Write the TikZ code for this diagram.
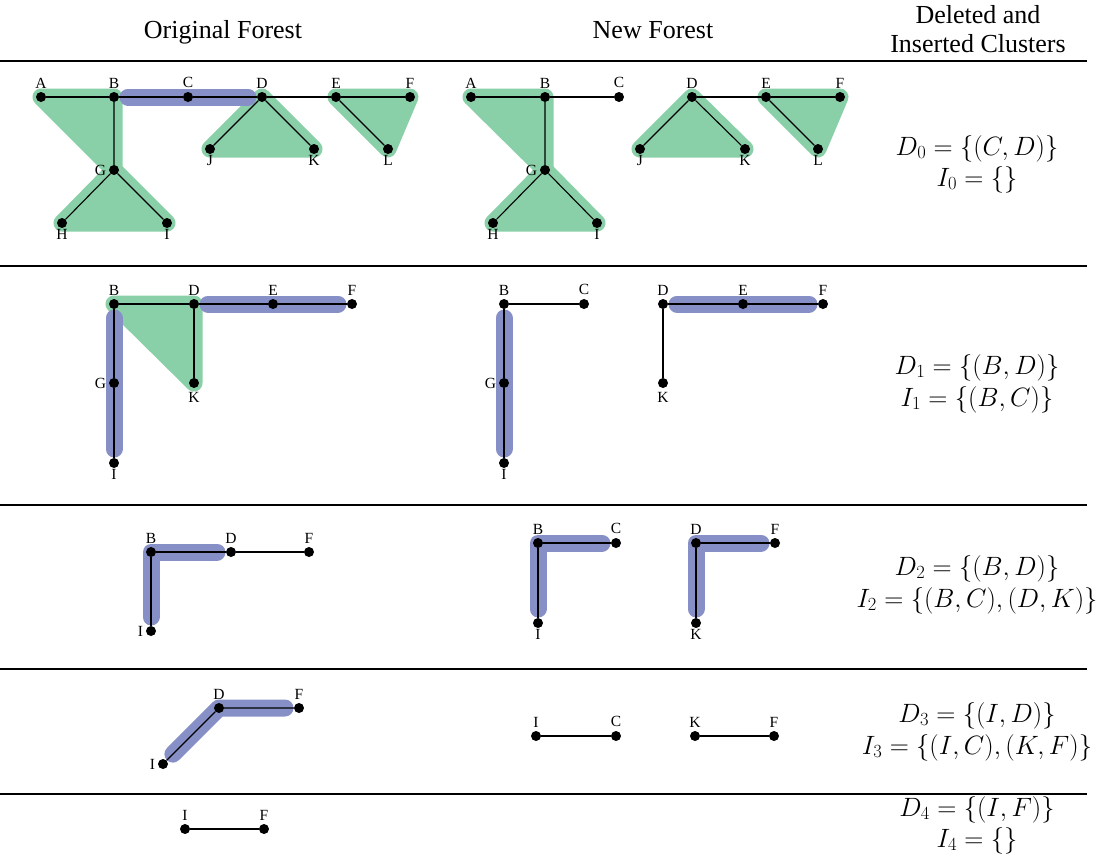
\RequirePackage{fix-cm}
\documentclass[tikz,border=0pt]{standalone}
\usepackage[no-math]{fontspec}
\setmainfont{Liberation Serif}

\definecolor{clgreen}{RGB}{137,207,168}
\definecolor{clblue}{RGB}{134,144,199}

\pgfdeclarelayer{bg}
\pgfsetlayers{bg,main}

\tikzset{
  vtx/.style={circle, fill=black, inner sep=0pt, minimum size=10pt},
  every label/.style={font=\fontsize{15.5}{18}\selectfont, inner sep=0pt},
  up/.style={label={[label distance=3.5pt]above:#1}},
  dn/.style={label={[label distance=1pt]below:#1}},
  lf/.style={label={[label distance=2.5pt]left:#1}},
  edge/.style={line width=1.1pt},
  gclus/.style={fill=clgreen, draw=clgreen, line width=17pt, line join=round},
  bclus/.style={draw=clblue, line width=17pt, line cap=round, line join=round,
                shorten <=14pt, shorten >=14pt},
  rule/.style={line width=1.3pt},
  head/.style={font=\fontsize{26}{29.6}\selectfont, inner sep=0pt},
  sets/.style={font=\fontsize{26.5}{31}\selectfont, inner sep=0pt, anchor=base}
}

\begin{document}
\begin{tikzpicture}[x=1pt, y=-1pt]
  \useasboundingbox (0,0) rectangle (1107,855);

  % column heads and rules
  \node[head, anchor=base] (hdorig) at (223,38) {Original Forest};
  \node[head, anchor=base] (hdnew) at (653,38) {New Forest};
  \node[head, anchor=north, align=center] (hddel) at (978,5) {Deleted and\\Inserted Clusters};
  \draw[rule] (0,61) -- (1087,61);
  \draw[rule] (0,266) -- (1087,266);
  \draw[rule] (0,505) -- (1087,505);
  \draw[rule] (0,669) -- (1087,669);
  \draw[rule] (0,794) -- (1087,794);

  % step 0
  \node[vtx, up=A] (o1A) at (41,97) {};   \node[vtx, up=B] (o1B) at (114,97) {};
  \node[vtx, up=C] (o1C) at (188,97) {};  \node[vtx, up=D] (o1D) at (262,97) {};
  \node[vtx, up=E] (o1E) at (336,97) {};  \node[vtx, up=F] (o1F) at (410,97) {};
  \node[vtx, lf=G] (o1G) at (114,170) {}; \node[vtx, dn=H] (o1H) at (62,223) {};
  \node[vtx, dn=I] (o1I) at (167,223) {}; \node[vtx, dn=J] (o1J) at (210,149) {};
  \node[vtx, dn=K] (o1K) at (314,149) {}; \node[vtx, dn=L] (o1L) at (388,149) {};
  \draw[edge] (o1A) -- (o1B) -- (o1C) -- (o1D) -- (o1E) -- (o1F);
  \draw[edge] (o1B) -- (o1G) -- (o1H);
  \draw[edge] (o1G) -- (o1I);
  \draw[edge] (o1J) -- (o1D) -- (o1K);
  \draw[edge] (o1E) -- (o1L);

  \node[vtx, up=A] (n1A) at (471,97) {};  \node[vtx, up=B] (n1B) at (545,97) {};
  \node[vtx, up=C] (n1C) at (619,97) {};  \node[vtx, up=D] (n1D) at (692,97) {};
  \node[vtx, up=E] (n1E) at (766,97) {};  \node[vtx, up=F] (n1F) at (840,97) {};
  \node[vtx, lf=G] (n1G) at (545,170) {}; \node[vtx, dn=H] (n1H) at (493,223) {};
  \node[vtx, dn=I] (n1I) at (597,223) {}; \node[vtx, dn=J] (n1J) at (640,149) {};
  \node[vtx, dn=K] (n1K) at (745,149) {}; \node[vtx, dn=L] (n1L) at (818,149) {};
  \draw[edge] (n1A) -- (n1B) -- (n1C);
  \draw[edge] (n1D) -- (n1E) -- (n1F);
  \draw[edge] (n1B) -- (n1G) -- (n1H);
  \draw[edge] (n1G) -- (n1I);
  \draw[edge] (n1J) -- (n1D) -- (n1K);
  \draw[edge] (n1E) -- (n1L);

  \node[sets] (d0) at (977,155) {$D_0 = \{(C,D)\}$};
  \node[sets] (i0) at (977,186) {$I_0 = \{\}$};

  % step 1
  \node[vtx, up=B] (o2B) at (114,304) {}; \node[vtx, up=D] (o2D) at (194,304) {};
  \node[vtx, up=E] (o2E) at (273,304) {}; \node[vtx, up=F] (o2F) at (352,304) {};
  \node[vtx, lf=G] (o2G) at (114,383) {}; \node[vtx, label={[label distance=4pt]below:K}] (o2K) at (194,383) {};
  \node[vtx, dn=I] (o2I) at (114,463) {};
  \draw[edge] (o2B) -- (o2D) -- (o2E) -- (o2F);
  \draw[edge] (o2B) -- (o2G) -- (o2I);
  \draw[edge] (o2D) -- (o2K);

  \node[vtx, up=B] (n2B) at (504,304) {}; \node[vtx, up=C] (n2C) at (584,304) {};
  \node[vtx, lf=G] (n2G) at (504,383) {}; \node[vtx, dn=I] (n2I) at (504,463) {};
  \node[vtx, up=D] (n2D) at (663,304) {}; \node[vtx, up=E] (n2E) at (743,304) {};
  \node[vtx, up=F] (n2F) at (823,304) {}; \node[vtx, label={[label distance=4pt]below:K}] (n2K) at (663,383) {};
  \draw[edge] (n2B) -- (n2C);
  \draw[edge] (n2B) -- (n2G) -- (n2I);
  \draw[edge] (n2D) -- (n2E) -- (n2F);
  \draw[edge] (n2D) -- (n2K);

  \node[sets] (d1) at (977,374) {$D_1 = \{(B,D)\}$};
  \node[sets] (i1) at (977,406) {$I_1 = \{(B,C)\}$};

  % step 2
  \node[vtx, up=B] (o3B) at (151,552) {}; \node[vtx, up=D] (o3D) at (231,552) {};
  \node[vtx, up=F] (o3F) at (309,552) {}; \node[vtx, lf=I] (o3I) at (151,631) {};
  \draw[edge] (o3B) -- (o3D) -- (o3F);
  \draw[edge] (o3B) -- (o3I);

  \node[vtx, up=B] (n3B) at (538,543) {}; \node[vtx, up=C] (n3C) at (616,543) {};
  \node[vtx, dn=I] (n3I) at (538,623) {}; \node[vtx, up=D] (n3D) at (696,543) {};
  \node[vtx, up=F] (n3F) at (775,543) {}; \node[vtx, dn=K] (n3K) at (696,623) {};
  \draw[edge] (n3C) -- (n3B) -- (n3I);
  \draw[edge] (n3F) -- (n3D) -- (n3K);

  \node[sets] (d2) at (977,575) {$D_2 = \{(B,D)\}$};
  \node[sets] (i2) at (977,607) {$I_2 = \{(B,C),(D,K)\}$};

  % step 3
  \node[vtx, up=D] (o4D) at (219,708) {}; \node[vtx, up=F] (o4F) at (299,708) {};
  \node[vtx, lf=I] (o4I) at (163,764) {};
  \draw[edge] (o4I) -- (o4D) -- (o4F);

  \node[vtx, up=I] (n4I) at (536,736) {}; \node[vtx, up=C] (n4C) at (616,736) {};
  \node[vtx, up=K] (n4K) at (695,736) {}; \node[vtx, up=F] (n4F) at (774,736) {};
  \draw[edge] (n4I) -- (n4C);
  \draw[edge] (n4K) -- (n4F);

  \node[sets] (d3) at (977,722) {$D_3 = \{(I,D)\}$};
  \node[sets] (i3) at (977,754) {$I_3 = \{(I,C),(K,F)\}$};

  % step 4
  \node[vtx, up=I] (o5I) at (185,829) {}; \node[vtx, up=F] (o5F) at (264,829) {};
  \draw[edge] (o5I) -- (o5F);

  \node[sets] (d4) at (977,816) {$D_4 = \{(I,F)\}$};
  \node[sets] (i4) at (977,847) {$I_4 = \{\}$};

  % clusters
  \begin{pgfonlayer}{bg}
    \filldraw[gclus] (o1A.center) -- (o1B.center) -- (o1G.center) -- cycle;
    \filldraw[gclus] (o1G.center) -- (o1H.center) -- (o1I.center) -- cycle;
    \filldraw[gclus] (o1D.center) -- (o1J.center) -- (o1K.center) -- cycle;
    \filldraw[gclus] (o1E.center) -- (o1F.center) -- (o1L.center) -- cycle;
    \draw[bclus] (o1B.center) -- (o1D.center);
    \filldraw[gclus] (n1A.center) -- (n1B.center) -- (n1G.center) -- cycle;
    \filldraw[gclus] (n1G.center) -- (n1H.center) -- (n1I.center) -- cycle;
    \filldraw[gclus] (n1D.center) -- (n1J.center) -- (n1K.center) -- cycle;
    \filldraw[gclus] (n1E.center) -- (n1F.center) -- (n1L.center) -- cycle;

    \filldraw[gclus] (o2B.center) -- (o2D.center) -- (o2K.center) -- cycle;
    \draw[bclus] (o2B.center) -- (o2I.center);
    \draw[bclus] (o2D.center) -- (o2F.center);
    \draw[bclus] (n2B.center) -- (n2I.center);
    \draw[bclus] (n2D.center) -- (n2F.center);

    \draw[bclus] (o3D.center) -- (o3B.center) -- (o3I.center);
    \draw[bclus] (n3C.center) -- (n3B.center) -- (n3I.center);
    \draw[bclus] (n3F.center) -- (n3D.center) -- (n3K.center);

    \draw[bclus] (o4I.center) -- (o4D.center) -- (o4F.center);
  \end{pgfonlayer}
\end{tikzpicture}
\end{document}
